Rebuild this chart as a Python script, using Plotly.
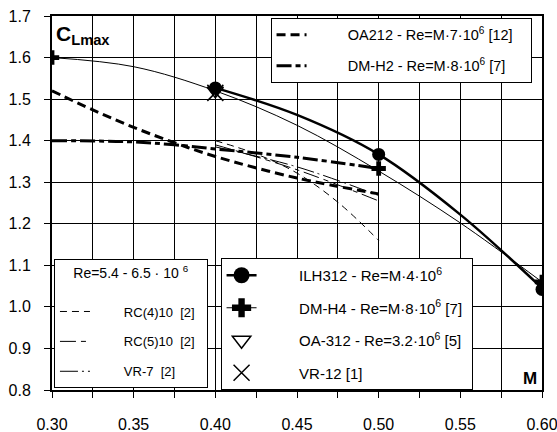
import plotly.graph_objects as go

# ---------------- data ----------------
ILH312_M = [0.40, 0.45, 0.50, 0.55, 0.60]
ILH312_CL = [1.527, 1.462, 1.367, 1.222, 1.045]
ILH312_pts_M = [0.40, 0.50, 0.60]
ILH312_pts_CL = [1.527, 1.367, 1.042]

DMH4_M = [0.30, 0.35, 0.40, 0.45, 0.50, 0.55, 0.60]
DMH4_CL = [1.600, 1.578, 1.520, 1.437, 1.327, 1.202, 1.060]
DMH4_pts_M = [0.30, 0.60]
DMH4_pts_CL = [1.600, 1.060]

OA212_M = [0.30, 0.325, 0.35, 0.375, 0.40, 0.45, 0.50]
OA212_CL = [1.520, 1.474, 1.432, 1.395, 1.362, 1.310, 1.272]

DMH2_M = [0.30, 0.35, 0.375, 0.40, 0.45, 0.50]
DMH2_CL = [1.400, 1.397, 1.390, 1.380, 1.360, 1.333]
DMH2_pts_M = [0.50]
DMH2_pts_CL = [1.333]

RC410_M = [0.40, 0.425, 0.45, 0.475, 0.50]
RC410_CL = [1.400, 1.368, 1.322, 1.252, 1.160]

RC510_M = [0.40, 0.45, 0.50]
RC510_CL = [1.390, 1.330, 1.255]

VR7_M = [0.40, 0.45, 0.50]
VR7_CL = [1.385, 1.337, 1.268]

OA312_M = [0.40]
OA312_CL = [1.520]

VR12_M = [0.40]
VR12_CL = [1.515]

x_ticks = [0.30, 0.35, 0.40, 0.45, 0.50, 0.55, 0.60]
y_ticks = [0.8, 0.9, 1.0, 1.1, 1.2, 1.3, 1.4, 1.5, 1.6, 1.7]

FONT = "Liberation Sans, Arial, sans-serif"
K = "black"
SP = "\u00a0"


def pad(text, lead, trail=0):
    return SP * lead + text + SP * trail


fig = go.Figure()

# ---- legend 2 (bottom-left): thin reference lines ----
fig.add_trace(go.Scatter(x=RC410_M, y=RC410_CL, mode="lines", line_shape="spline",
                         line=dict(color=K, width=1, dash="7px,5px"),
                         name=pad("RC(4)10  [2]", 8, 2), legend="legend2", legendgroup="a1"))
fig.add_trace(go.Scatter(x=RC510_M, y=RC510_CL, mode="lines", line_shape="spline",
                         line=dict(color=K, width=1, dash="16px,5px,5px,5px"),
                         name=pad("RC(5)10  [2]", 8, 2), legend="legend2", legendgroup="a2"))
fig.add_trace(go.Scatter(x=VR7_M, y=VR7_CL, mode="lines", line_shape="spline",
                         line=dict(color=K, width=1, dash="18px,4px,2px,4px"),
                         name=pad("VR-7  [2]", 8), legend="legend2", legendgroup="a3"))

# ---- legend 1 (top-right): thick dashed lines ----
fig.add_trace(go.Scatter(x=OA212_M, y=OA212_CL, mode="lines", line_shape="spline",
                         line=dict(color=K, width=3, dash="9px,5px"),
                         name=pad("OA212 - Re=M·7·10<sup>6</sup> [12]", 9, 3),
                         legend="legend", legendgroup="b1"))
fig.add_trace(go.Scatter(x=DMH2_M, y=DMH2_CL, mode="lines", line_shape="spline",
                         line=dict(color=K, width=3, dash="15px,4px,5px,4px"),
                         name=pad("DM-H2 - Re=M·8·10<sup>6</sup> [7]", 9),
                         legend="legend", legendgroup="b2"))

# ---- curves with markers ----
fig.add_trace(go.Scatter(x=DMH4_M, y=DMH4_CL, mode="lines", line_shape="spline",
                         line=dict(color=K, width=1), showlegend=False))
fig.add_trace(go.Scatter(x=ILH312_M, y=ILH312_CL, mode="lines", line_shape="spline",
                         line=dict(color=K, width=2.5), showlegend=False))

fig.add_trace(go.Scatter(x=OA312_M, y=OA312_CL, mode="markers",
                         marker=dict(symbol="triangle-down-open", size=14, color=K,
                                     line=dict(width=1.5, color=K)), showlegend=False))
fig.add_trace(go.Scatter(x=VR12_M, y=VR12_CL, mode="markers",
                         marker=dict(symbol="x-thin", size=16, color=K,
                                     line=dict(width=1.5, color=K)), showlegend=False))
fig.add_trace(go.Scatter(x=ILH312_pts_M, y=ILH312_pts_CL, mode="markers",
                         marker=dict(symbol="circle", size=13, color=K), showlegend=False))
fig.add_trace(go.Scatter(x=DMH4_pts_M, y=DMH4_pts_CL, mode="markers",
                         marker=dict(symbol="cross", size=12, color=K), showlegend=False))
fig.add_trace(go.Scatter(x=DMH2_pts_M, y=DMH2_pts_CL, mode="markers",
                         marker=dict(symbol="cross", size=12, color=K), showlegend=False))

# ---- legend 3 entries (legend-only keys) ----
fig.add_trace(go.Scatter(x=[None], y=[None], mode="lines+markers",
                         line=dict(color=K, width=2.5),
                         marker=dict(symbol="circle", size=16, color=K),
                         name=pad("ILH312 - Re=M·4·10<sup>6</sup>", 9),
                         legend="legend3", legendgroup="c1"))
fig.add_trace(go.Scatter(x=[None], y=[None], mode="lines+markers",
                         line=dict(color=K, width=1),
                         marker=dict(symbol="cross", size=16, color=K),
                         name=pad("DM-H4 - Re=M·8·10<sup>6</sup> [7]", 9, 1),
                         legend="legend3", legendgroup="c2"))
fig.add_trace(go.Scatter(x=[None], y=[None], mode="markers",
                         marker=dict(symbol="triangle-down-open", size=16, color=K,
                                     line=dict(width=1.5, color=K)),
                         name=pad("OA-312 - Re=3.2·10<sup>6</sup> [5]", 9, 1),
                         legend="legend3", legendgroup="c3"))
fig.add_trace(go.Scatter(x=[None], y=[None], mode="markers",
                         marker=dict(symbol="x-thin", size=16, color=K,
                                     line=dict(width=1.5, color=K)),
                         name=pad("VR-12 [1]", 9), legend="legend3", legendgroup="c4"))

leg_common = dict(bgcolor="white", bordercolor=K, borderwidth=1,
                  traceorder="grouped")

fig.update_layout(
    width=557, height=432,
    margin=dict(l=52, r=15, t=16, b=42, autoexpand=False),
    paper_bgcolor="white", plot_bgcolor="white",
    font=dict(family=FONT, color=K),
    xaxis=dict(range=[0.30, 0.60], tickvals=x_ticks, tickformat=".2f",
               automargin=False,
               showgrid=True, gridcolor=K, gridwidth=1,
               ticks="outside", ticklen=6, tickcolor=K, ticklabelstandoff=13,
               ticklabeloverflow="allow",
               minor=dict(dtick=0.025, tick0=0.30, showgrid=True, gridcolor=K, gridwidth=1,
                          ticks="outside", ticklen=6, tickcolor=K),
               showline=True, linecolor=K, linewidth=2, mirror=True,
               zeroline=False, tickfont=dict(size=16, family=FONT)),
    yaxis=dict(range=[0.8, 1.7], tickvals=y_ticks, tickformat=".1f",
               automargin=False,
               showgrid=True, gridcolor=K, gridwidth=1,
               ticks="outside", ticklen=6, tickcolor=K, ticklabelstandoff=10,
               ticklabeloverflow="allow",
               showline=True, linecolor=K, linewidth=2, mirror=True,
               zeroline=False, tickfont=dict(size=16, family=FONT)),
    legend=dict(x=0.446, y=0.995, xanchor="left", yanchor="top",
                font=dict(size=14.5, family=FONT), tracegroupgap=9, **leg_common),
    legend2=dict(x=0.004, y=0.005, xanchor="left", yanchor="bottom",
                 font=dict(size=13, family=FONT), tracegroupgap=10,
                 title=dict(text="Re=5.4 - 6.5 · 10 <sup>6</sup><br> ", side="top center",
                            font=dict(size=14, family=FONT)),
                 **leg_common),
    legend3=dict(x=0.344, y=0.0, xanchor="left", yanchor="bottom",
                 font=dict(size=15, family=FONT), tracegroupgap=10, **leg_common),
    annotations=[
        dict(xref="paper", yref="paper", x=0.004, y=0.99, xanchor="left", yanchor="top",
             text="<b>C<sub>Lmax</sub></b>", showarrow=False, font=dict(size=21, family=FONT)),
        dict(xref="paper", yref="paper", x=0.993, y=0.0, xanchor="right", yanchor="bottom",
             text="<b>M</b>", showarrow=False, font=dict(size=17, family=FONT)),
    ],
)

fig.write_html("out.html")
